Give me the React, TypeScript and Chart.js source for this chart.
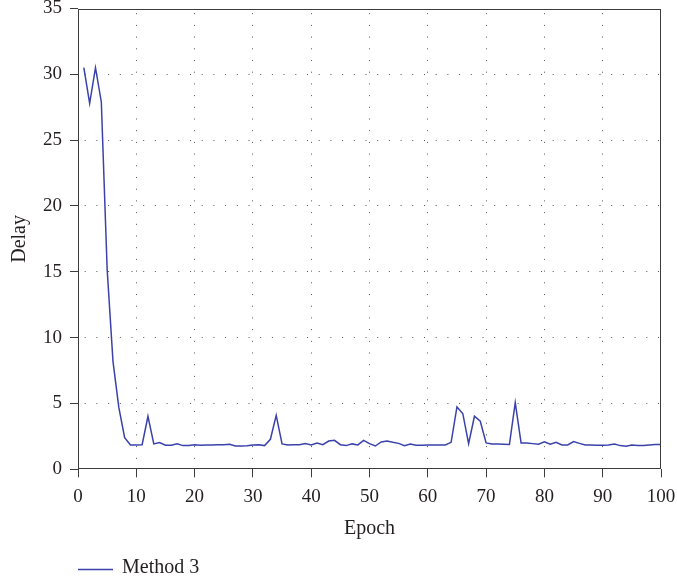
import React, { useEffect, useRef } from "react";
import { Chart, registerables } from "chart.js";

Chart.register(...registerables);

const epochs = [
  1, 2, 3, 4, 5, 6, 7, 8, 9, 10, 11, 12, 13, 14, 15, 16, 17, 18, 19, 20,
  21, 22, 23, 24, 25, 26, 27, 28, 29, 30, 31, 32, 33, 34, 35, 36, 37, 38, 39, 40,
  41, 42, 43, 44, 45, 46, 47, 48, 49, 50, 51, 52, 53, 54, 55, 56, 57, 58, 59, 60,
  61, 62, 63, 64, 65, 66, 67, 68, 69, 70, 71, 72, 73, 74, 75, 76, 77, 78, 79, 80,
  81, 82, 83, 84, 85, 86, 87, 88, 89, 90, 91, 92, 93, 94, 95, 96, 97, 98, 99, 100,
];

const method3Delay = [
  30.5, 27.8, 30.5, 27.9, 15.2, 8.2, 4.7, 2.4, 1.85, 1.85,
  1.87, 4.03, 1.93, 2.03, 1.83, 1.83, 1.93, 1.8, 1.8, 1.87,
  1.83, 1.85, 1.85, 1.87, 1.87, 1.9, 1.77, 1.77, 1.78, 1.85,
  1.87, 1.8, 2.28, 4.1, 1.93, 1.85, 1.87, 1.87, 1.95, 1.85,
  2.0, 1.87, 2.15, 2.2, 1.87, 1.8, 1.93, 1.85, 2.2, 1.95,
  1.77, 2.08, 2.15, 2.05, 1.97, 1.8, 1.92, 1.83, 1.83, 1.85,
  1.85, 1.85, 1.85, 2.05, 4.74, 4.24, 1.95, 4.03, 3.65, 2.0,
  1.92, 1.92, 1.9, 1.88, 5.07, 2.0, 2.0, 1.95, 1.9, 2.08,
  1.9, 2.05, 1.85, 1.85, 2.1, 1.97, 1.85, 1.85, 1.83, 1.83,
  1.85, 1.92, 1.8, 1.75, 1.85, 1.8, 1.8, 1.85, 1.88, 1.88,
];

const seriesLabel = "Method 3";
const xTitle = "Epoch";
const yTitle = "Delay";
const xMin = 0;
const xMax = 100;
const xStep = 10;
const yMin = 0;
const yMax = 35;
const yStep = 5;

const FONT = "'Liberation Serif', 'Times New Roman', serif";
const TEXT = "#231f20";
const AXIS = "#3c3c3c";
const GRID = "#555555";
const LINE = "rgb(58, 66, 170)";

const boxAndLegend = {
  id: "boxAndLegend",
  afterDraw(chart: any) {
    const { ctx, chartArea } = chart;
    const l = Math.round(chartArea.left) + 0.5;
    const t = Math.round(chartArea.top) + 0.5;
    const r = Math.round(chartArea.right) - 0.5;
    const b = Math.round(chartArea.bottom) - 0.5;
    ctx.save();
    ctx.setLineDash([]);
    ctx.strokeStyle = AXIS;
    ctx.lineWidth = 1;
    ctx.strokeRect(l, t, r - l, b - t);

    // legend
    const ds = chart.data.datasets[0];
    const ly = 569.5;
    ctx.strokeStyle = LINE;
    ctx.lineWidth = 1.5;
    ctx.beginPath();
    ctx.moveTo(chartArea.left, ly);
    ctx.lineTo(chartArea.left + 35, ly);
    ctx.stroke();
    ctx.fillStyle = TEXT;
    ctx.font = `20px ${FONT}`;
    ctx.textBaseline = "middle";
    ctx.textAlign = "left";
    ctx.fillText(ds.label, chartArea.left + 44, 568);
    ctx.restore();
  },
};

const gridColor = (min: number, max: number) => (c: any) =>
  c.tick && (c.tick.value === min || c.tick.value === max) ? "rgba(0,0,0,0)" : GRID;

export default function App() {
  const ref = useRef<HTMLCanvasElement>(null);

  useEffect(() => {
    document.body.style.margin = "0";
    const canvas = ref.current;
    if (!canvas) return;
    const chart = new Chart(canvas, {
      type: "line",
      data: {
        datasets: [
          {
            label: seriesLabel,
            data: epochs.map((e, i) => ({ x: e, y: method3Delay[i] })),
            borderColor: LINE,
            backgroundColor: LINE,
            borderWidth: 1.5,
            pointRadius: 0,
            tension: 0,
            fill: false,
          },
        ],
      },
      options: {
        animation: false,
        responsive: false,
        devicePixelRatio: 1,
        layout: { padding: { left: 0, right: 16, top: 8.5, bottom: 43 } },
        plugins: {
          legend: { display: false },
          tooltip: { enabled: false },
        },
        scales: {
          x: {
            type: "linear",
            min: xMin,
            max: xMax,
            ticks: {
              stepSize: xStep,
              color: TEXT,
              font: { family: FONT, size: 19 },
              padding: 8,
              maxRotation: 0,
            },
            grid: {
              color: gridColor(xMin, xMax),
              lineWidth: 1,
              tickLength: 8,
              tickColor: AXIS,
              tickWidth: 1,
            },
            border: { display: false, color: "rgba(0,0,0,0)", width: 1, dash: [1, 10.7], dashOffset: 7 },
            title: {
              display: true,
              text: xTitle,
              color: TEXT,
              font: { family: FONT, size: 20 },
              padding: { top: 0, bottom: 0 },
            },
            afterFit: (s: any) => {
              s.height = 71.7;
              s.paddingLeft = 0;
              s.paddingRight = 0;
            },
          },
          y: {
            type: "linear",
            min: yMin,
            max: yMax,
            ticks: {
              stepSize: yStep,
              color: TEXT,
              font: { family: FONT, size: 19 },
              padding: 8,
            },
            grid: {
              color: gridColor(yMin, yMax),
              lineWidth: 1,
              tickLength: 8,
              tickColor: AXIS,
              tickWidth: 1,
            },
            border: { display: false, color: "rgba(0,0,0,0)", width: 1, dash: [1, 10.7], dashOffset: 5 },
            title: {
              display: true,
              text: yTitle,
              color: TEXT,
              font: { family: FONT, size: 20 },
              padding: { top: 7.5, bottom: 0 },
            },
            afterFit: (s: any) => {
              s.width = 78;
              s.paddingTop = 0;
              s.paddingBottom = 0;
            },
          },
        },
      },
      plugins: [boxAndLegend],
    } as any);
    return () => chart.destroy();
  }, []);

  return (
    <canvas
      ref={ref}
      width={677}
      height={584}
      style={{ display: "block", width: 677, height: 584 }}
    />
  );
}
